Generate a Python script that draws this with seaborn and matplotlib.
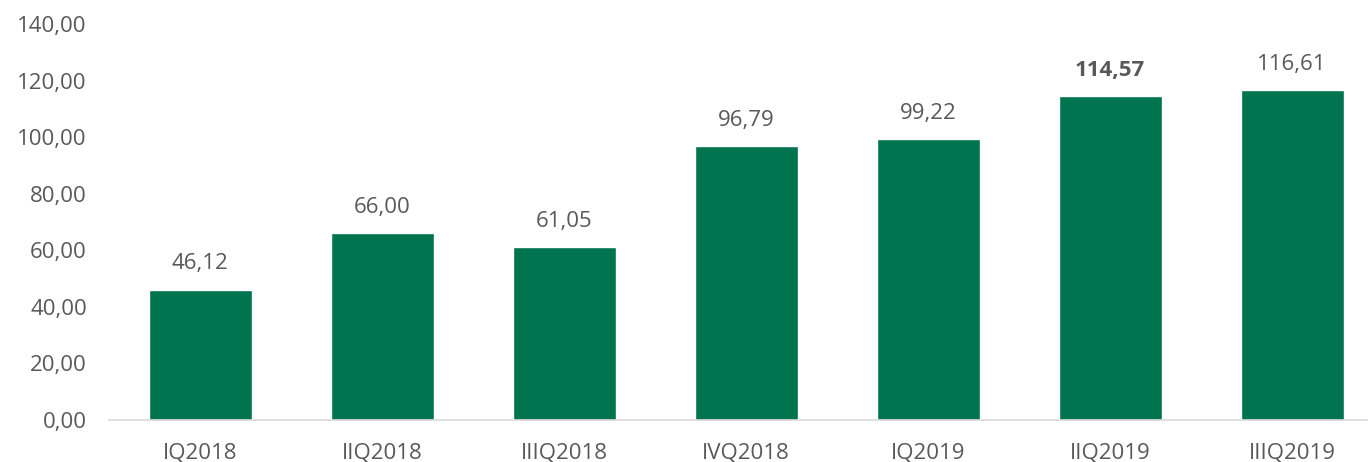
import pandas as pd
import seaborn as sns
import matplotlib.pyplot as plt

# Data
quarters = ["IQ2018", "IIQ2018", "IIIQ2018", "IVQ2018", "IQ2019", "IIQ2019", "IIIQ2019"]
values = [46.12, 66.00, 61.05, 96.79, 99.22, 114.57, 116.61]
bold_labels = ["IIQ2019"]

df = pd.DataFrame({"Quarter": quarters, "Value": values})

sns.set_theme(style="white")
plt.rcParams["font.family"] = ["Open Sans", "DejaVu Sans"]

text_color = "#595959"
bar_color = "#00734F"

fig = plt.figure(figsize=(13.68, 4.62), dpi=100)
# plot area runs slightly past the right edge, like the original
ax = fig.add_axes([0.0797, 0.0909, 0.9313, 0.857])

sns.barplot(data=df, x="Quarter", y="Value", color=bar_color, width=0.566,
            saturation=1, ax=ax)

ax.set_ylim(0, 140)
ax.set_yticks(range(0, 141, 20))
ax.set_yticklabels([f"{t},00" for t in range(0, 141, 20)])
ax.set_xlabel("")
ax.set_ylabel("")

for i, (q, v) in enumerate(zip(quarters, values)):
    label = f"{v:.2f}".replace(".", ",")
    ax.annotate(label, (i, v), xytext=(0, 11), textcoords="offset points",
                ha="center", va="bottom", fontsize=16, color=text_color,
                fontweight="bold" if q in bold_labels else "normal")

for s in ["top", "right", "left"]:
    ax.spines[s].set_visible(False)
ax.spines["bottom"].set_color("#d9d9d9")
ax.spines["bottom"].set_linewidth(1.2)

ax.tick_params(axis="both", length=0, labelsize=16, colors=text_color)
ax.tick_params(axis="x", pad=16)
ax.tick_params(axis="y", pad=16)

fig.savefig("out.png", dpi=100)
